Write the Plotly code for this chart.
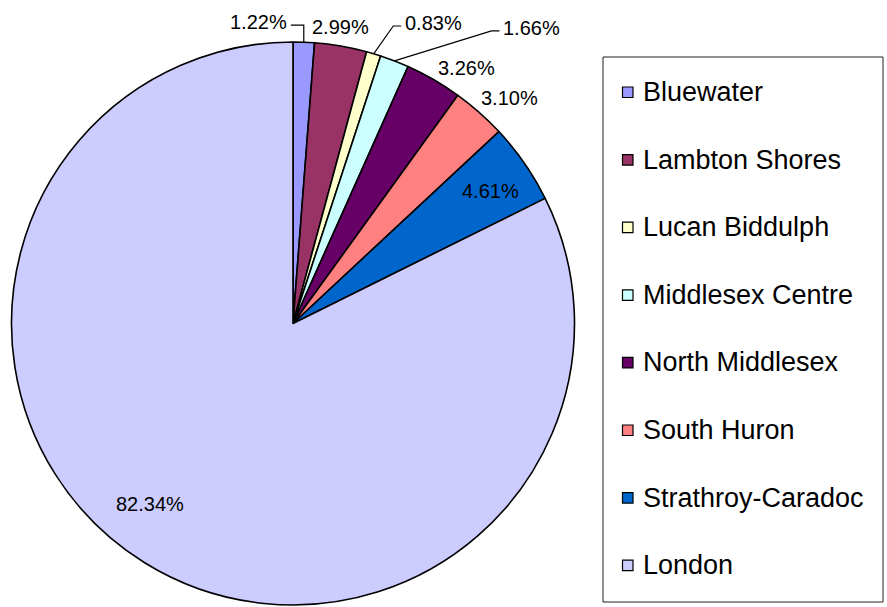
import math
import plotly.graph_objects as go

# ---- data ----
labels = ["Bluewater", "Lambton Shores", "Lucan Biddulph", "Middlesex Centre",
          "North Middlesex", "South Huron", "Strathroy-Caradoc", "London"]
values = [1.22, 2.99, 0.83, 1.66, 3.26, 3.10, 4.61, 82.34]
colors = ["#9999FF", "#993366", "#FFFFCC", "#CCFFFF",
          "#660066", "#FF8080", "#0066CC", "#CCCCFF"]

# ---- layout constants (pixels) ----
W, H = 887, 607
CX, CY, R = 293, 323.5, 281.5
FONT = "Liberation Sans, Arial, sans-serif"
# label centre offsets relative to the arc mid point of each slice
label_offsets = [(-45, -20), (-0.5, -19), (59.6, -30.8), (137, -33),
                 (33, -11.7), (30.7, -14.5), (-34, 28), (5.3, -59)]
leader = [True, False, True, True, False, False, False, False]


def px(x):
    return x / W


def py(y):
    return 1 - y / H


fig = go.Figure(go.Pie(
    labels=labels, values=values, sort=False, direction="clockwise", rotation=0,
    marker=dict(colors=colors, line=dict(color="black", width=1.6)),
    textinfo="none", hoverinfo="label+percent", showlegend=False,
    domain=dict(x=[px(CX - R), px(CX + R)], y=[py(CY + R), py(CY - R)]),
))

total = sum(values)
cum = 0.0
annotations = []
shapes = []
for i, v in enumerate(values):
    mid = (cum + v / 2) / total * 2 * math.pi
    cum += v
    ax = CX + R * math.sin(mid)
    ay = CY - R * math.cos(mid)
    dx, dy = label_offsets[i]
    tx, ty = ax + dx, ay + dy
    annotations.append(dict(
        x=px(tx), y=py(ty), xref="paper", yref="paper", showarrow=False,
        text=f"{v:.2f}%", xanchor="center", yanchor="middle",
        font=dict(family=FONT, size=20, color="black")))
    if leader[i]:
        half = 30
        ly = ty + 3
        if tx < ax:
            sx = tx + half + 2
            ex = ax
        else:
            sx = tx - half - 2
            ex = sx - 8
        path = f"M{px(sx)},{py(ly)} L{px(ex)},{py(ly)} L{px(ax)},{py(ay)}"
        shapes.append(dict(type="path", xref="paper", yref="paper", path=path,
                           line=dict(color="black", width=1.2)))

# ---- manual legend ----
LX0, LY0, LX1, LY1 = 603, 57, 883, 602
shapes.append(dict(type="rect", xref="paper", yref="paper",
                   x0=px(LX0), x1=px(LX1), y0=py(LY1), y1=py(LY0),
                   line=dict(color="#222222", width=1), fillcolor="rgba(0,0,0,0)"))
row0, step = 92, 67.6
for i, (lab, col) in enumerate(zip(labels, colors)):
    yc = row0 + i * step
    shapes.append(dict(type="rect", xref="paper", yref="paper",
                       x0=px(622.5), x1=px(633), y0=py(yc + 5.5), y1=py(yc - 5),
                       line=dict(color="black", width=1.2), fillcolor=col))
    annotations.append(dict(
        x=px(641), y=py(yc), xref="paper", yref="paper", showarrow=False,
        text=lab, xanchor="left", yanchor="middle",
        font=dict(family=FONT, size=27, color="black")))

fig.update_layout(
    width=W, height=H, margin=dict(l=0, r=0, t=0, b=0),
    paper_bgcolor="white", plot_bgcolor="white",
    annotations=annotations, shapes=shapes,
)
fig.write_html("out.html", config={"displayModeBar": False},
               post_script="document.body.style.margin='0';document.body.style.overflow='hidden';")
